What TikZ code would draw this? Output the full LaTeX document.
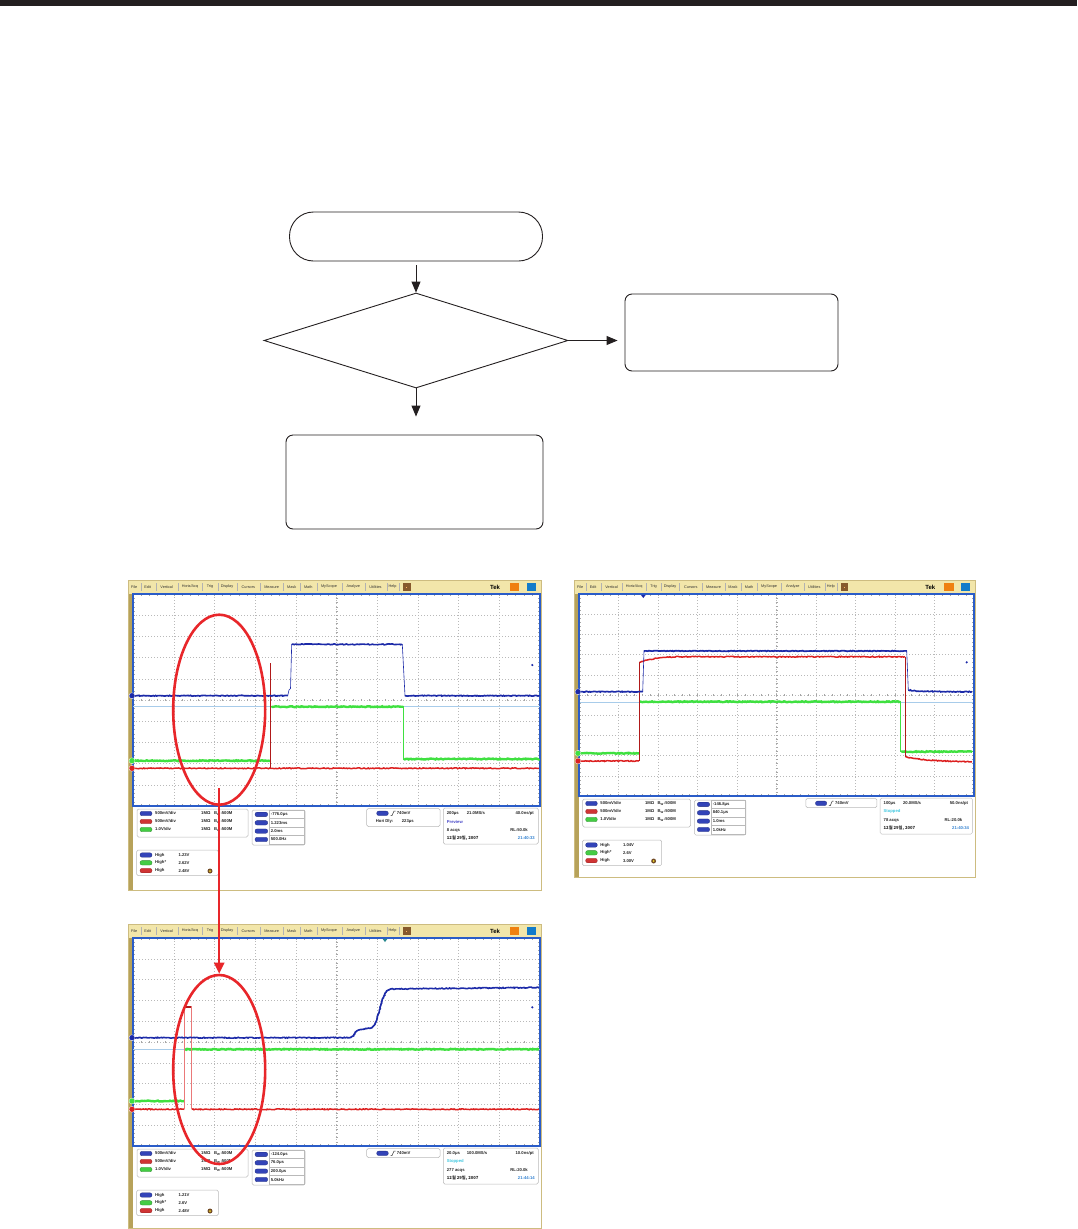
\documentclass[tikz,border=0pt]{standalone}
\usepackage{fontspec}
\setmainfont{Liberation Sans}
\newfontfamily\kofont{Noto Sans CJK KR}
\usetikzlibrary{shapes.geometric, arrows.meta, positioning, decorations.pathmorphing}

\definecolor{barblack}{HTML}{231F20}
\definecolor{tekmenu}{HTML}{F2E6AA}
\definecolor{tekolive}{HTML}{B7A25A}
\definecolor{tekframe}{HTML}{CDBC80}
\definecolor{tekblue}{HTML}{2A5CC8}
\definecolor{trblue}{HTML}{1C2AA8}
\definecolor{trgreen}{HTML}{3FE040}
\definecolor{trred}{HTML}{DC2020}
\definecolor{trlight}{HTML}{A8CCEA}
\definecolor{markred}{HTML}{E8262A}
\definecolor{pillblue}{HTML}{3344B8}
\definecolor{pillred}{HTML}{D03434}
\definecolor{pillgreen}{HTML}{44CC44}
\definecolor{prevblue}{HTML}{4848C8}
\definecolor{stopcyan}{HTML}{40C8E0}
\definecolor{timeblue}{HTML}{3080D0}

\tikzset{
  flow/.style={draw=barblack, line width=0.9pt},
  termbox/.style={flow, rectangle, rounded corners=24pt, minimum width=253pt, minimum height=49pt, inner sep=0pt},
  decbox/.style={flow, diamond, aspect=3.2, minimum width=304pt, minimum height=95pt, inner sep=0pt},
  procbox/.style={flow, rectangle, rounded corners=7pt, inner sep=0pt},
  flowarrow/.style={draw=barblack, line width=0.9pt, -{Triangle[length=11pt,width=9pt]}},
  ring/.style={draw=markred, line width=2.6pt, ellipse, minimum width=92pt, minimum height=190pt, inner sep=0pt},
  tekgrid/.style={gray!55, line width=0.4pt, dash pattern=on 0.5pt off 2.5pt},
  tektick/.style={gray!70, line width=0.4pt},
  noisy/.style={decorate, decoration={random steps, segment length=1.2pt, amplitude=0.45pt}},
  scrtxt/.style={font=\fontsize{4.2}{5}\selectfont\bfseries, inner sep=0pt, anchor=west, text=black!85},
  menutxt/.style={font=\fontsize{3.8}{4.5}\selectfont, inner sep=0pt, text=black!80},
  infobox/.style={draw=gray!55, line width=0.5pt, rounded corners=1.5pt, fill=white},
  pill/.style={rounded corners=2pt, line width=0.3pt},
}

% marco, menu, reticula y cuadros de una pantalla
% #1 ancho, #2 borde inferior de la reticula, #3 alto, #4 filas del cuadro de disparo
\newcommand{\tekscreen}[4]{%
  \pgfmathsetmacro{\gx}{(#1-6)/10}
  \pgfmathsetmacro{\gy}{(#2-14)/10}
  \pgfmathsetmacro{\sx}{#1/413}
  \fill[white] (0,0) rectangle (#1,#3);
  \fill[tekmenu] (0,0) rectangle (#1,14);
  \fill[tekolive] (0,14) rectangle (5,#3);
  \draw[tekframe, line width=0.8pt] (0,0) rectangle (#1,#3);
  % Menu
  \begin{scope}[xscale=\sx]
    \foreach \m/\p in {File/6.3, Edit/19.7, Vertical/38.7, {Horiz/Acq}/62, Trig/82, Display/99, Cursors/120.3, Measure/143.7, Mask/163.7, Math/180.3, MyScope/201, Analyze/225.3, Utilities/247.5, Help/264.5}
      \node[menutxt] at (\p,7) {\m};
    \foreach \p in {13, 27.7, 49.7, 74.3, 89.7, 108.7, 132, 155.3, 172, 188.7, 213.7, 237, 258.7, 271}
      \draw[gray!60, line width=0.3pt] (\p,3) -- (\p,11);
    \fill[brown!70!black] (274.7,3) rectangle (282.7,11);
    \fill[orange!60] (278,6.5) rectangle (279.4,7.5);
    \node[font=\fontsize{6}{7}\selectfont\bfseries, inner sep=0pt] at (367,7) {Tek};
    \fill[orange!75!brown] (381.5,3) rectangle (391,11);
    \fill[cyan!60!blue] (398.5,3) rectangle (408,11);
  \end{scope}
  % Reticula
  \foreach \i in {1,...,9} {
    \draw[tekgrid] ({5+\i*\gx},14) -- ({5+\i*\gx},#2);
    \draw[tekgrid] (5,{14+\i*\gy}) -- (#1-1,{14+\i*\gy});
  }
  \foreach \k in {1,...,49} {
    \draw[tektick] ({5+\k*\gx/5},14) -- ++(0,2);
    \draw[tektick] ({5+\k*\gx/5},#2) -- ++(0,-2);
    \draw[tektick] ({5+\k*\gx/5},{14+5*\gy-1}) -- ++(0,2);
    \draw[tektick] (5,{14+\k*\gy/5}) -- ++(2,0);
    \draw[tektick] (#1-1,{14+\k*\gy/5}) -- ++(-2,0);
    \draw[tektick] ({4+5*\gx},{14+\k*\gy/5}) -- ++(2,0);
  }
  \draw[tekblue, line width=1.1pt] (5,14) rectangle (#1-1,#2);
  % Cuadros de informacion
  \begin{scope}[shift={(0,#2)}, xscale=\sx]
    \draw[infobox] (9,3) rectangle (120,31);
    \foreach \r/\c/\t in {7.5/pillblue/500mV\slash div, 15.5/pillred/500mV\slash div, 23.5/pillgreen/1.0V\slash div} {
      \draw[pill, fill=\c, draw=\c!70!black] (12,\r-2.2) rectangle (24,\r+2.2);
      \node[scrtxt] at (27,\r) {\t};
      \node[scrtxt] at (73,\r) {1MΩ};
      \node[scrtxt] at (86,\r) {B\textsubscript{W}:500M};
    }
    \draw[infobox] (124,4) rectangle (177,39);
    \foreach \r in {8.4, 16.8, 25.1, 33.5} {
      \draw[pill, fill=pillblue, draw=pillblue!70!black] (127,\r-2.2) rectangle (139.7,\r+2.2);
      \draw[gray!55, line width=0.4pt] (141,\r-4.2) rectangle (176,\r+4.2);
    }
    \draw[infobox] (238.7,2.5) rectangle (312,{2.5+#4*9});
    \draw[pill, fill=pillblue, draw=pillblue!70!black] (248.7,5.1) rectangle (260.3,9.5);
    \draw[black!80, line width=0.5pt] (262.5,9.5) -- (264,9.5) -- (266,5) -- (267.5,5);
    \node[scrtxt] at (268.7,7.3) {740mV};
    \draw[infobox] (315.3,2) rectangle (410.3,38);
    \draw[infobox] (8.7,44) rectangle (90.3,69.7);
    \foreach \r/\c/\t in {49/pillblue/High, 56.8/pillgreen/High*, 64.6/pillred/High} {
      \draw[pill, fill=\c, draw=\c!70!black] (12,\r-2.2) rectangle (24,\r+2.2);
      \node[scrtxt] at (27,\r) {\t};
    }
    \fill[brown!60!black] (82,65) circle (2.5pt);
    \fill[yellow!70!brown] (82,65) circle (1pt);
  \end{scope}
}

\begin{document}
\begin{tikzpicture}[x=1pt, y=-1pt]
  \useasboundingbox (0,0) rectangle (1077,1229);
  % Barra superior
  \fill[barblack] (0,0) rectangle (1077,6);

  % Diagrama de flujo
  \node[termbox] (start) at (416,236.5) {};
  \node[decbox] (check) at (416,340.5) {};
  \node[procbox, minimum width=213pt, minimum height=77pt] (fail) at (731.5,332.5) {};
  \node[procbox, minimum width=257pt, minimum height=94pt] (next) at (414.5,482) {};
  \draw[flowarrow, shorten <=4pt] (start) -- (check);
  \draw[flowarrow, shorten >=18pt] (check.south) -- (check.south |- next.north);
  \draw[flowarrow, shorten >=7pt] (check.east) -- (check.east -| fail.west);

  % Pantalla 1 (arriba, izquierda)
  \begin{scope}[shift={(128,580)}]
    \tekscreen{413}{226}{310}{2}
    \draw[trlight, line width=0.5pt] (5,126) -- (412,126);
    % verde
    \draw[trgreen, line width=0.6pt] (5,180.7) -- (142.7,180.7) -- (142.7,126.7) -- (275.7,126.7) -- (275.7,179) -- (412,179);
    \draw[trgreen, line width=2.4pt, noisy] (6,180.7) -- (142.7,180.7) (143.5,126.7) -- (275.5,126.7) (276,179) -- (411,179);
    % rojo
    \draw[trred!80!black, line width=0.6pt] (142.7,188.3) -- (142.7,83.3);
    \draw[trred, line width=1.5pt, noisy] (6,188.3) -- (411,188.3);
    % azul
    \draw[trblue, line width=0.6pt] (5,115.7) -- (159.7,115.7) -- (161,110) -- (162.5,108.5) -- (163.7,64.3) -- (274.3,64.3) -- (277,115.7) -- (412,115.7);
    \draw[trblue, line width=1.6pt, noisy] (6,115.7) -- (159.7,115.7) (163.7,64.3) -- (274.3,64.3) (277,115.7) -- (411,115.7);
    % marcadores
    \filldraw[fill=trblue, draw=white, line width=0.3pt] (4,115.7) circle (3pt);
    \filldraw[fill=trgreen, draw=white, line width=0.3pt] (4,180.7) circle (3pt);
    \filldraw[fill=trred, draw=white, line width=0.3pt] (4,188.3) circle (3pt);
    \fill[trblue] (404.3,85) circle (1.2pt);
    % valores
    \begin{scope}[shift={(0,226)}]
      \node[scrtxt] at (142.7,8.4) {-776.0μs};
      \node[scrtxt] at (142.7,16.8) {1.223ms};
      \node[scrtxt] at (142.7,25.1) {2.0ms};
      \node[scrtxt] at (142.7,33.5) {500.0Hz};
      \node[scrtxt] at (247.7,15.7) {Hori Dly:};
      \node[scrtxt] at (273.7,15.7) {223μs};
      \node[scrtxt] at (318.7,7.3) {200μs};
      \node[scrtxt] at (338.7,7.3) {21.0MS/s};
      \node[scrtxt, anchor=east] at (406,7.3) {40.0ns/pt};
      \node[scrtxt, text=prevblue] at (318.7,15.7) {Preview};
      \node[scrtxt] at (318.7,24) {8 acqs};
      \node[scrtxt, anchor=east] at (400,24) {RL:50.0k};
      \node[scrtxt] at (318.7,32.3) {\kofont 12월 29일, 2007};
      \node[scrtxt, anchor=east, text=timeblue] at (407,32.3) {21:40:33};
      \node[scrtxt] at (50.3,49) {1.23V};
      \node[scrtxt] at (50.3,56.8) {2.62V};
      \node[scrtxt] at (50.3,64.6) {2.48V};
    \end{scope}
  \end{scope}

  % Pantalla 2 (arriba, derecha)
  \begin{scope}[shift={(574,580)}]
    \tekscreen{401}{216}{297}{1}
    \draw[trlight, line width=0.5pt] (6,122.7) -- (399,122.7);
    % verde
    \draw[trgreen, line width=0.6pt] (6,173.3) -- (65,173.3) -- (65,121.7) -- (326.7,121.7) -- (326.7,171.7) -- (399,171.7);
    \draw[trgreen, line width=2.4pt, noisy] (7,173.3) -- (65,173.3) (65.8,121.7) -- (326.3,121.7) (327.3,171.7) -- (398,171.7);
    % rojo
    \draw[trred!80!black, line width=0.6pt] (65,181) -- (65,82.3) (331,76.7) -- (331,176.7);
    \draw[trred, line width=1.5pt, noisy] (7,181) -- (65,181) (65.5,82.3) .. controls (80,77) and (100,76.7) .. (115,76.7) -- (331,76.7) (331.5,176.7) .. controls (345,180) and (370,181.5) .. (398,181.7);
    % azul
    \draw[trblue, line width=0.6pt] (6,111.7) -- (68.7,111.7) -- (70,71) -- (332.7,71) -- (334.3,110);
    \draw[trblue, line width=1.6pt, noisy] (7,111.7) -- (68.7,111.7) (70,71) -- (332.7,71) (334.3,110) .. controls (345,111.5) .. (398,111.7);
    \fill[trblue] (66.8,14.8) -- (71.8,14.8) -- (69.3,18) -- cycle;
    % marcadores
    \filldraw[fill=trblue, draw=white, line width=0.3pt] (4,111.7) circle (3pt);
    \filldraw[fill=trgreen, draw=white, line width=0.3pt] (4,173.3) circle (3pt);
    \filldraw[fill=trred, draw=white, line width=0.3pt] (4,181) circle (3pt);
    \fill[trblue] (392.7,82.3) circle (1.2pt);
    % valores
    \begin{scope}[shift={(0,216)}, xscale=0.971]
      \node[scrtxt] at (142.7,8.4) {-146.8μs};
      \node[scrtxt] at (142.7,16.8) {840.1μs};
      \node[scrtxt] at (142.7,25.1) {1.0ms};
      \node[scrtxt] at (142.7,33.5) {1.0kHz};
      \node[scrtxt] at (318.7,7.3) {100μs};
      \node[scrtxt] at (338.7,7.3) {20.0MS/s};
      \node[scrtxt, anchor=east] at (406,7.3) {50.0ns/pt};
      \node[scrtxt, text=stopcyan] at (318.7,15.7) {Stopped};
      \node[scrtxt] at (318.7,24) {78 acqs};
      \node[scrtxt, anchor=east] at (400,24) {RL:20.0k};
      \node[scrtxt] at (318.7,32.3) {\kofont 12월 29일, 2007};
      \node[scrtxt, anchor=east, text=timeblue] at (407,32.3) {21:40:34};
      \node[scrtxt] at (50.3,49) {1.04V};
      \node[scrtxt] at (50.3,56.8) {2.6V};
      \node[scrtxt] at (50.3,64.6) {3.00V};
    \end{scope}
  \end{scope}

  % Pantalla 3 (abajo, izquierda)
  \begin{scope}[shift={(128,924)}]
    \tekscreen{413}{222}{304}{1}
    \draw[trlight, line width=0.5pt] (5,125.3) -- (412,125.3);
    % verde
    \draw[trgreen, line width=0.6pt] (5,177) -- (56.3,177) -- (56.3,125.3);
    \draw[trgreen, line width=2.4pt, noisy] (6,177) -- (56.3,177) (57,125.3) -- (411,125.3);
    % rojo
    \draw[trred, line width=1.5pt, noisy] (6,185.3) -- (56.3,185.3);
    \draw[trred, line width=1.5pt, noisy] (63.7,185.3) -- (411,185.3);
    \draw[trred!60, line width=0.6pt] (56.3,185.3) -- (56.3,82.7) -- (63.7,82.7) -- (63.7,185.3);
    \draw[trred!80!black, line width=1.6pt] (57,82.7) -- (63,82.7);
    % azul
    \draw[trblue, line width=0.7pt] (221,113.7) .. controls (227,113.7) and (226,105.5) .. (233,105.5) -- (243,104) .. controls (252,100) and (252,66) .. (263,65);
    \draw[trblue, line width=1.6pt, noisy] (6,113.7) -- (221,113.7) .. controls (227,113.7) and (226,105.5) .. (233,105.5) -- (243,104) .. controls (252,100) and (252,66) .. (263,65) -- (411,63.5);
    \fill[trgreen!60!blue] (254.5,14.8) -- (259.5,14.8) -- (257,18) -- cycle;
    % marcadores
    \filldraw[fill=trblue, draw=white, line width=0.3pt] (4,113.7) circle (3pt);
    \filldraw[fill=trgreen, draw=white, line width=0.3pt] (4,177) circle (3pt);
    \filldraw[fill=trred, draw=white, line width=0.3pt] (4,185.3) circle (3pt);
    \fill[trblue] (404.3,83.3) circle (1.2pt);
    % valores
    \begin{scope}[shift={(0,222)}]
      \node[scrtxt] at (142.7,8.4) {-124.0μs};
      \node[scrtxt] at (142.7,16.8) {76.0μs};
      \node[scrtxt] at (142.7,25.1) {200.0μs};
      \node[scrtxt] at (142.7,33.5) {5.0kHz};
      \node[scrtxt] at (318.7,7.3) {20.0μs};
      \node[scrtxt] at (338.7,7.3) {100.0MS/s};
      \node[scrtxt, anchor=east] at (406,7.3) {10.0ns/pt};
      \node[scrtxt, text=stopcyan] at (318.7,15.7) {Stopped};
      \node[scrtxt] at (318.7,24) {277 acqs};
      \node[scrtxt, anchor=east] at (400,24) {RL:20.0k};
      \node[scrtxt] at (318.7,32.3) {\kofont 12월 29일, 2007};
      \node[scrtxt, anchor=east, text=timeblue] at (407,32.3) {21:44:14};
      \node[scrtxt] at (50.3,49) {1.21V};
      \node[scrtxt] at (50.3,56.8) {2.6V};
      \node[scrtxt] at (50.3,64.6) {2.48V};
    \end{scope}
  \end{scope}

  % Marcas rojas
  \node[ring] (ring1) at (219.2,709.7) {};
  \node[ring, minimum height=189pt] (ring3) at (219.2,1069.5) {};
  \draw[markred, line width=2.4pt, -{Triangle[length=11pt,width=10pt]}] ([yshift=18pt]ring1.south) -- (ring3.north);
\end{tikzpicture}
\end{document}
